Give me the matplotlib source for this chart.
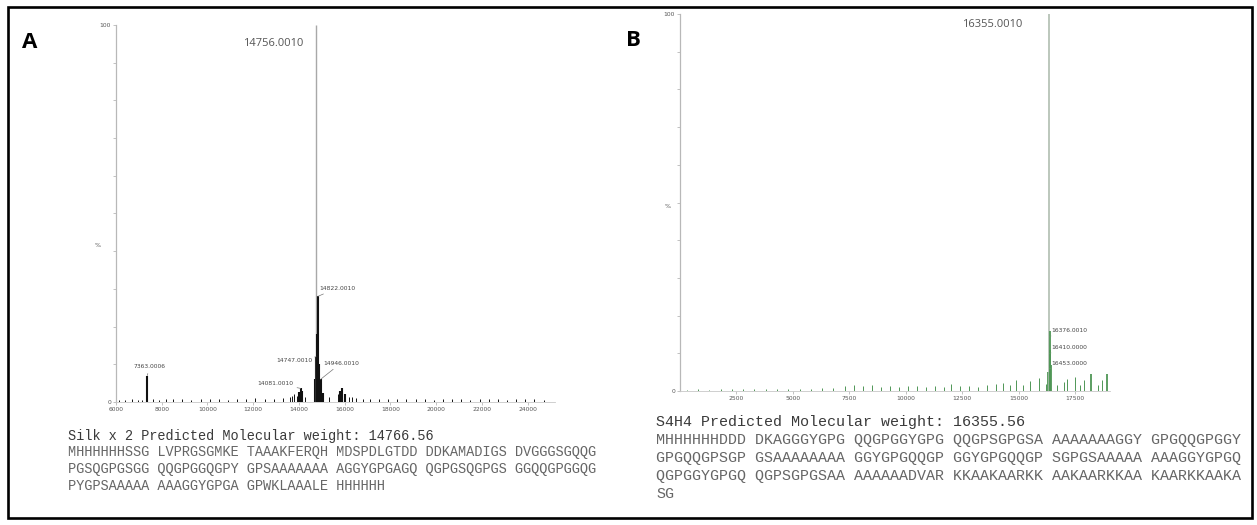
import matplotlib
matplotlib.use("Agg")
import matplotlib.pyplot as plt
from matplotlib.patches import Rectangle

W, H = 1257, 525

# ---- panel A : Silk x 2 ----
a_mass = [6150, 6400, 6700, 6950, 7150, 7363, 7600, 7900, 8200, 8500, 8900, 9300, 9700,
          10100, 10500, 10900, 11300, 11700, 12100, 12500, 12900, 13300, 13600, 13700,
          13800, 13900, 14000, 14081, 14150, 14250, 14700, 14747, 14756, 14790, 14822,
          14860, 14946, 15050, 15300, 15700, 15800, 15900, 16000, 16200, 16300, 16500,
          16800, 17100, 17500, 17900, 18300, 18700, 19100, 19500, 19900, 20300, 20700,
          21100, 21500, 21900, 22300, 22700, 23100, 23500, 23900, 24300, 24700]
a_int = [0.6, 0.5, 0.7, 0.5, 0.6, 7.0, 0.8, 0.6, 0.9, 0.7, 0.8, 0.6, 0.9,
         0.7, 0.8, 0.6, 0.9, 0.7, 1.0, 0.8, 0.9, 1.0, 1.3, 1.6,
         2.0, 1.5, 2.6, 3.6, 2.8, 1.4, 6.0, 12.0, 100.0, 18.0, 28.0,
         10.0, 6.0, 2.5, 1.2, 2.0, 2.8, 3.6, 2.2, 1.4, 1.3, 1.1,
         0.9, 0.8, 0.9, 0.7, 0.8, 0.9, 0.7, 0.8, 0.6, 0.9, 0.7,
         0.8, 0.6, 0.9, 0.7, 0.8, 0.6, 0.9, 0.7, 0.8, 0.6]
a_ticks = [6000, 8000, 10000, 12000, 14000, 16000, 18000, 20000, 22000, 24000]
a_tick_labels = ["6000", "8000", "10000", "12000", "14000", "16000", "18000", "20000",
                 "22000", "24000"]
a_labels = ["7363.0006", "14081.0010", "14747.0010", "14822.0010", "14946.0010"]
a_label_mass = [7363, 14081, 14747, 14822, 14946]
a_label_int = [7.0, 3.6, 12.0, 28.0, 6.0]
a_top = "14756.0010"
a_title = "Silk x 2 Predicted Molecular weight: 14766.56"
a_seq = ["MHHHHHHSSG LVPRGSGMKE TAAAKFERQH MDSPDLGTDD DDKAMADIGS DVGGGSGQQG",
         "PGSQGPGSGG QQGPGGQGPY GPSAAAAAAA AGGYGPGAGQ QGPGSQGPGS GGQQGPGGQG",
         "PYGPSAAAAA AAAGGYGPGA GPWKLAAALE HHHHHH"]

# ---- panel B : S4H4 ----
b_mass = [300, 800, 1300, 1800, 2300, 2800, 3300, 3800, 4300, 4800, 5300, 5800, 6300,
          6800, 7300, 7700, 8100, 8500, 8900, 9300, 9700, 10100, 10500, 10900, 11300,
          11700, 12000, 12400, 12800, 13200, 13600, 14000, 14300, 14600, 14900, 15200,
          15500, 15900, 16200, 16300, 16355, 16376, 16410, 16453, 16700, 17000, 17150,
          17500, 17700, 17900, 18200, 18500, 18700, 18900]
b_int = [0.3, 0.4, 0.3, 0.4, 0.5, 0.4, 0.5, 0.4, 0.5, 0.6, 0.5, 0.6, 0.7,
         0.9, 1.2, 1.6, 1.2, 1.5, 1.1, 1.3, 1.0, 1.4, 1.2, 1.0, 1.3,
         1.1, 1.8, 1.2, 1.4, 1.1, 1.5, 1.8, 2.2, 1.6, 2.8, 1.5,
         2.6, 3.5, 1.8, 5.0, 100.0, 16.0, 11.0, 7.0, 1.5, 2.4, 3.2,
         3.6, 1.5, 2.8, 4.6, 1.6, 3.0, 4.4]
b_ticks = [2500, 5000, 7500, 10000, 12500, 15000, 17500]
b_tick_labels = ["2500", "5000", "7500", "10000", "12500", "15000", "17500"]
b_labels = ["16376.0010", "16410.0000", "16453.0000"]
b_label_int = [16.0, 11.5, 7.4]
b_top = "16355.0010"
b_title = "S4H4 Predicted Molecular weight: 16355.56"
b_seq = ["MHHHHHHDDD DKAGGGYGPG QQGPGGYGPG QQGPSGPGSA AAAAAAAGGY GPGQQGPGGY",
         "GPGQQGPSGP GSAAAAAAAA GGYGPGQQGP GGYGPGQQGP SGPGSAAAAA AAAGGYGPGQ",
         "QGPGGYGPGQ QGPSGPGSAA AAAAAADVAR KKAAKAARKK AAKAARKKAA KAARKKAAKA",
         "SG"]


def box(x0, y0, x1, y1):
    # pixel box -> figure fraction rect
    return [x0 / W, 1 - y1 / H, (x1 - x0) / W, (y1 - y0) / H]


def style_axis(ax, ticks, labels, xlim):
    ax.set_xlim(*xlim)
    ax.set_ylim(0, 100)
    for s in ["top", "right"]:
        ax.spines[s].set_visible(False)
    ax.spines["left"].set_color("#b8b8b8")
    ax.spines["bottom"].set_color("#c8c8c8")
    ax.spines["left"].set_linewidth(0.9)
    ax.spines["bottom"].set_linewidth(0.6)
    ax.set_xticks(ticks)
    ax.set_xticklabels(labels)
    ax.set_yticks(range(0, 101, 10))
    ax.set_yticklabels(["0"] + [""] * 9 + ["100"])
    ax.tick_params(axis="both", length=2, width=0.5, color="#aaaaaa",
                   labelsize=4.3, labelcolor="#555555", pad=1.5)
    ax.patch.set_alpha(0)


fig = plt.figure(figsize=(W / 100, H / 100), dpi=100)

# panel A spectrum
axA = fig.add_axes(box(116, 25, 555, 402))
style_axis(axA, a_ticks, a_tick_labels, (6000, 25200))
for m, v in zip(a_mass, a_int):
    if v >= 100:
        axA.vlines(m, 0, v, color="#a8a8a8", lw=1.0)
    else:
        axA.vlines(m, 0, v, color="#111111", lw=1.5 if v > 2 else 0.7)
axA.text(5200, 41.6, "%", fontsize=4.5, color="#555555", ha="center", va="center")
axA.text(12856, 95.2, a_top, fontsize=8, color="#555555", ha="center", va="center",
         family="Open Sans")
a_text_pos = [(7480, 9.3), (12950, 5.0), (13780, 11.1), (14870, 30.2), (15050, 10.3)]
a_text_ha = ["center", "center", "center", "left", "left"]
for lab, m, v, pos, ha in zip(a_labels, a_label_mass, a_label_int, a_text_pos, a_text_ha):
    axA.annotate(lab, xy=(m, v), xytext=pos, fontsize=4.3, color="#444444",
                 ha=ha, va="center",
                 arrowprops=dict(arrowstyle="-", color="#777777", lw=0.5,
                                 shrinkA=1, shrinkB=0))

# panel B spectrum
axB = fig.add_axes(box(680, 14, 1110, 391))
style_axis(axB, b_ticks, b_tick_labels, (0, 19050))
for m, v in zip(b_mass, b_int):
    if v >= 100:
        axB.vlines(m, 0, v, color="#a9b8a9", lw=1.1)
    else:
        axB.vlines(m, 0, v, color="#4f9656", lw=1.3 if v > 4 else 0.7)
axB.text(-550, 49, "%", fontsize=4.5, color="#555555", ha="center", va="center")
axB.text(13834, 97.3, b_top, fontsize=8, color="#555555", ha="center", va="center",
         family="Open Sans")
for lab, v in zip(b_labels, b_label_int):
    axB.annotate(lab, xy=(16376, v - 1.5), xytext=(16470, v), fontsize=4.3,
                 color="#444444", ha="left", va="center",
                 arrowprops=dict(arrowstyle="-", color="#6a9a6a", lw=0.5,
                                 shrinkA=0, shrinkB=0))

# panel letters
fig.text(30 / W, 1 - 43 / H, "A", fontsize=16, fontweight="bold", family="Open Sans",
         ha="center", va="center")
fig.text(633 / W, 1 - 41 / H, "B", fontsize=16, fontweight="bold", family="Open Sans",
         ha="center", va="center")

# sequences
fig.text(68 / W, 1 - 436 / H, a_title, fontsize=9.8, family="Liberation Mono",
         color="#3a3a3a", va="center")
for i, line in enumerate(a_seq):
    fig.text(68 / W, 1 - (452 + 17 * i) / H, line, fontsize=9.8, family="Liberation Mono",
             color="#666666", va="center")
fig.text(656 / W, 1 - 422 / H, b_title, fontsize=10.8, family="Liberation Mono",
         color="#3a3a3a", va="center")
for i, line in enumerate(b_seq):
    fig.text(656 / W, 1 - (440 + 18 * i) / H, line, fontsize=10.8, family="Liberation Mono",
             color="#666666", va="center")

# outer frame
fig.patches.append(Rectangle((8 / W, 1 - 518 / H), 1244 / W, 511 / H,
                             transform=fig.transFigure, fill=False,
                             edgecolor="black", lw=1.9))

fig.savefig("out.png", dpi=100, facecolor="white")
